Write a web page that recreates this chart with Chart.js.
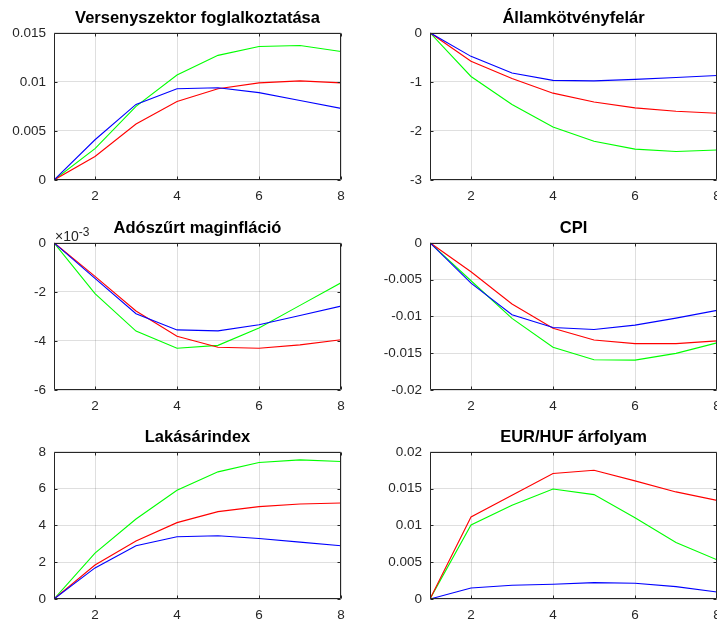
<!DOCTYPE html>
<html>
<head>
<meta charset="utf-8">
<script src="https://cdn.jsdelivr.net/npm/chart.js@4/dist/chart.umd.min.js"></script>
<style>
  html, body { margin: 0; padding: 0; background: #fff; overflow: hidden; }
  #wrap { position: relative; width: 717px; height: 620px; overflow: hidden; background: #fff; }
  .panel { position: absolute; width: 345px; height: 210px; }
  canvas { display: block; }
</style>
</head>
<body>
<div id="wrap">
  <div class="panel" style="left:0px;top:0px"><canvas id="c1" width="345" height="210"></canvas></div>
  <div class="panel" style="left:376px;top:0px"><canvas id="c2" width="345" height="210"></canvas></div>
  <div class="panel" style="left:0px;top:210px"><canvas id="c3" width="345" height="210"></canvas></div>
  <div class="panel" style="left:376px;top:210px"><canvas id="c4" width="345" height="210"></canvas></div>
  <div class="panel" style="left:0px;top:419px"><canvas id="c5" width="345" height="210"></canvas></div>
  <div class="panel" style="left:376px;top:419px"><canvas id="c6" width="345" height="210"></canvas></div>
</div>
<script>
// Horizon (quarters) and x-axis ticks shared by every panel
const periods = [1, 2, 3, 4, 5, 6, 7, 8];
const xTicks = [2, 4, 6, 8];

// Versenyszektor foglalkoztatása
const emplBlue  = [0, 0.0041, 0.0077, 0.0093, 0.0094, 0.0089, 0.0081, 0.0073];
const emplRed   = [0, 0.0024, 0.0057, 0.0080, 0.0093, 0.0099, 0.0101, 0.0099];
const emplGreen = [0, 0.0032, 0.0075, 0.0107, 0.0127, 0.0136, 0.0137, 0.0131];
const emplTicks = [0, 0.005, 0.01, 0.015];
const emplTickLabels = ['0', '0.005', '0.01', '0.015'];

// Államkötvényfelár
const spreadBlue  = [0, -0.48, -0.82, -0.97, -0.98, -0.95, -0.91, -0.87];
const spreadRed   = [0, -0.58, -0.93, -1.23, -1.41, -1.53, -1.60, -1.64];
const spreadGreen = [0, -0.89, -1.46, -1.92, -2.21, -2.37, -2.42, -2.39];
const spreadTicks = [0, -1, -2, -3];
const spreadTickLabels = ['0', '-1', '-2', '-3'];

// Adószűrt maginfláció
const coreBlue  = [0, -0.00145, -0.00289, -0.00355, -0.00359, -0.00334, -0.00296, -0.00258];
const coreRed   = [0, -0.00137, -0.00278, -0.00381, -0.00426, -0.00430, -0.00416, -0.00395];
const coreGreen = [0, -0.00207, -0.00360, -0.00430, -0.00418, -0.00347, -0.00255, -0.00163];
const coreTicks = [0, -0.002, -0.004, -0.006];
const coreTickLabels = ['0', '-2', '-4', '-6'];

// CPI
const cpiBlue  = [0, -0.00548, -0.00977, -0.01150, -0.01178, -0.01119, -0.01023, -0.00918];
const cpiRed   = [0, -0.00393, -0.00831, -0.01160, -0.01320, -0.01370, -0.01370, -0.01333];
const cpiGreen = [0, -0.00516, -0.01027, -0.01420, -0.01589, -0.01594, -0.01502, -0.01360];
const cpiTicks = [0, -0.005, -0.01, -0.015, -0.02];
const cpiTickLabels = ['0', '-0.005', '-0.01', '-0.015', '-0.02'];

// Lakásárindex
const houseBlue  = [0, 1.69, 2.89, 3.38, 3.44, 3.29, 3.09, 2.89];
const houseRed   = [0, 1.85, 3.15, 4.15, 4.75, 5.02, 5.16, 5.22];
const houseGreen = [0, 2.49, 4.35, 5.91, 6.91, 7.42, 7.56, 7.47];
const houseTicks = [0, 2, 4, 6, 8];
const houseTickLabels = ['0', '2', '4', '6', '8'];

// EUR/HUF árfolyam
const fxBlue  = [0, 0.00150, 0.00186, 0.00200, 0.00223, 0.00214, 0.00168, 0.00095];
const fxRed   = [0, 0.01114, 0.01410, 0.01705, 0.01750, 0.01605, 0.01455, 0.01340];
const fxGreen = [0, 0.01005, 0.01273, 0.01495, 0.01418, 0.01105, 0.00768, 0.00532];
const fxTicks = [0, 0.005, 0.01, 0.015, 0.02];
const fxTickLabels = ['0', '0.005', '0.01', '0.015', '0.02'];

const FONT = '"Liberation Sans", Arial, Helvetica, sans-serif';
const AXIS_COLOR = '#262626';
const GRID_COLOR = 'rgba(38,38,38,0.15)';

// Axes box with inward tick marks on all four sides, plus optional exponent note
const boxPlugin = {
  id: 'axesBox',
  afterDatasetsDraw(chart, args, opts) {
    const { ctx, chartArea: a, scales } = chart;
    ctx.save();
    ctx.strokeStyle = AXIS_COLOR;
    ctx.lineWidth = 1;
    const L = Math.round(a.left) + 0.5, R = Math.round(a.right) - 0.5;
    const T = Math.round(a.top) + 0.5, B = Math.round(a.bottom) - 0.5;
    ctx.beginPath();
    ctx.rect(L, T, R - L, B - T);
    const tl = 3;
    scales.x.ticks.forEach(t => {
      const px = Math.round(scales.x.getPixelForValue(t.value)) + 0.5;
      ctx.moveTo(px, B); ctx.lineTo(px, B - tl);
      ctx.moveTo(px, T); ctx.lineTo(px, T + tl);
    });
    scales.y.ticks.forEach(t => {
      const py = Math.round(scales.y.getPixelForValue(t.value)) + 0.5;
      ctx.moveTo(L, py); ctx.lineTo(L + tl, py);
      ctx.moveTo(R, py); ctx.lineTo(R - tl, py);
    });
    ctx.stroke();
    if (opts && opts.exponent) {
      ctx.fillStyle = AXIS_COLOR;
      ctx.textBaseline = 'alphabetic';
      ctx.textAlign = 'left';
      ctx.font = '14px ' + FONT;
      const base = '\u00d710';
      ctx.fillText(base, a.left + 1, a.top - 2);
      const w = ctx.measureText(base).width;
      ctx.font = '12px ' + FONT;
      ctx.fillText(opts.exponent, a.left + 1 + w, a.top - 7);
    }
    ctx.restore();
  }
};

function series(values) {
  return periods.map((p, i) => ({ x: p, y: values[i] }));
}

function makePanel(id, title, blue, red, green, yTicks, yTickLabels, yMin, yMax, exponent) {
  const line = (vals, color) => ({
    data: series(vals),
    borderColor: color,
    backgroundColor: color,
    borderWidth: 1.1,
    pointRadius: 0,
    tension: 0,
    fill: false
  });
  return new Chart(document.getElementById(id), {
    type: 'line',
    data: {
      datasets: [line(blue, '#0000ff'), line(red, '#ff0000'), line(green, '#00ff00')]
    },
    options: {
      responsive: false,
      animation: false,
      devicePixelRatio: 1,
      layout: { padding: { top: 0, left: 0, right: 4, bottom: 0 } },
      plugins: {
        legend: { display: false },
        tooltip: { enabled: false },
        title: {
          display: true,
          text: title,
          fullSize: false,
          color: '#000',
          font: { family: FONT, size: 16.5, weight: 'bold', lineHeight: 1.2 },
          padding: { top: 9, bottom: 4 }
        },
        axesBox: { exponent: exponent || null }
      },
      scales: {
        x: {
          type: 'linear',
          min: 1,
          max: 8,
          afterBuildTicks: s => { s.ticks = xTicks.map(v => ({ value: v })); },
          afterFit: s => { s.height = 30; s.paddingLeft = 0; s.paddingRight = 0; },
          grid: { color: GRID_COLOR, drawTicks: false, lineWidth: 1 },
          border: { display: false },
          ticks: {
            color: AXIS_COLOR,
            font: { family: FONT, size: 13.5 },
            padding: 8,
            maxRotation: 0,
            callback: v => String(v)
          }
        },
        y: {
          type: 'linear',
          min: yMin,
          max: yMax,
          afterBuildTicks: s => { s.ticks = yTicks.map(v => ({ value: v })); },
          afterFit: s => { s.width = 54; s.paddingTop = 0; s.paddingBottom = 0; },
          grid: { color: GRID_COLOR, drawTicks: false, lineWidth: 1 },
          border: { display: false },
          ticks: {
            color: AXIS_COLOR,
            font: { family: FONT, size: 13.5 },
            padding: 8,
            callback: (v) => {
              const i = yTicks.findIndex(t => Math.abs(t - v) < 1e-12);
              return i >= 0 ? yTickLabels[i] : '';
            }
          }
        }
      }
    },
    plugins: [boxPlugin]
  });
}

makePanel('c1', 'Versenyszektor foglalkoztatása', emplBlue, emplRed, emplGreen, emplTicks, emplTickLabels, 0, 0.015);
makePanel('c2', 'Államkötvényfelár', spreadBlue, spreadRed, spreadGreen, spreadTicks, spreadTickLabels, -3, 0);
makePanel('c3', 'Adószűrt maginfláció', coreBlue, coreRed, coreGreen, coreTicks, coreTickLabels, -0.006, 0, '-3');
makePanel('c4', 'CPI', cpiBlue, cpiRed, cpiGreen, cpiTicks, cpiTickLabels, -0.02, 0);
makePanel('c5', 'Lakásárindex', houseBlue, houseRed, houseGreen, houseTicks, houseTickLabels, 0, 8);
makePanel('c6', 'EUR/HUF árfolyam', fxBlue, fxRed, fxGreen, fxTicks, fxTickLabels, 0, 0.02);
</script>
</body>
</html>
